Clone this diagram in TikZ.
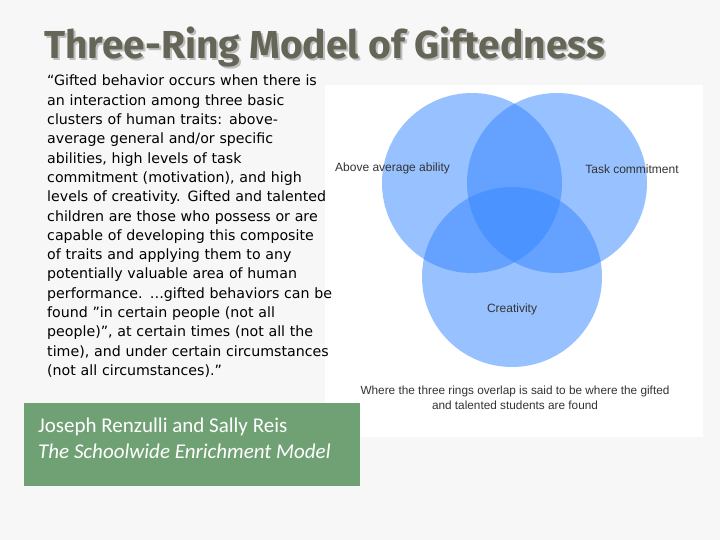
\documentclass[tikz,border=0pt]{standalone}
\usepackage{fontspec}
\setmainfont{DejaVu Sans}
\newfontfamily\titlefont{Fira Sans}
\newfontfamily\capfont{Carlito}
\newfontfamily\arialfont{Liberation Sans}
\definecolor{ringblue}{RGB}{51,133,255}
\definecolor{boxgreen}{RGB}{112,161,116}
\definecolor{titlegray}{RGB}{102,102,88}
\begin{document}
\begin{tikzpicture}[x=1pt,y=-1pt,
  ring/.style={fill=ringblue,fill opacity=0.5,draw=none},
  lbl/.style={font=\arialfont\fontsize{12}{14}\selectfont,text=black!80,inner sep=0},
  body/.style={font=\fontsize{14.2}{19.3}\selectfont,align=left,anchor=north west,inner sep=0,text width=340}]
\useasboundingbox (0,0) rectangle (720,540);
\fill[gray!6] (0,0) rectangle (720,540);
\fill[white] (325,85) rectangle (703,437);
\node[anchor=west,inner sep=0,font=\titlefont\bfseries\fontsize{39}{44}\selectfont,text=black!25] (shadow) at (46,49) {Three-Ring Model of Giftedness};
\node[anchor=west,inner sep=0,font=\titlefont\bfseries\fontsize{39}{44}\selectfont,text=titlegray] (title) at (44,47) {Three-Ring Model of Giftedness};
\node[body] (txt) at (47,75) {“Gifted behavior occurs when there is\\an interaction among three basic\\clusters of human traits: above-\\average general and/or specific\\abilities, high levels of task\\commitment (motivation), and high\\levels of creativity. Gifted and talented\\children are those who possess or are\\capable of developing this composite\\of traits and applying them to any\\potentially valuable area of human\\performance. …gifted behaviors can be\\found "in certain people (not all\\people)", at certain times (not all the\\time), and under certain circumstances\\(not all circumstances)."};
\fill[ring] (472,183) circle (90);
\fill[ring] (557,183) circle (90);
\fill[ring] (512,277) circle (90);
\node[lbl,anchor=west] (a) at (335,168) {Above average ability};
\node[lbl] (t) at (632,169) {Task commitment};
\node[lbl] (c) at (512,309) {Creativity};
\node[lbl,align=center,font=\arialfont\fontsize{11.8}{14.5}\selectfont] (cap) at (515,398) {Where the three rings overlap is said to be where the gifted\\and talented students are found};
\fill[boxgreen] (24,403) rectangle (360,486);
\node[anchor=north west,inner sep=0,align=left,text=white,font=\capfont\fontsize{21}{26}\selectfont] (ref) at (38,418) {Joseph Renzulli and Sally Reis\\\itshape The Schoolwide Enrichment Model};
\end{tikzpicture}
\end{document}
